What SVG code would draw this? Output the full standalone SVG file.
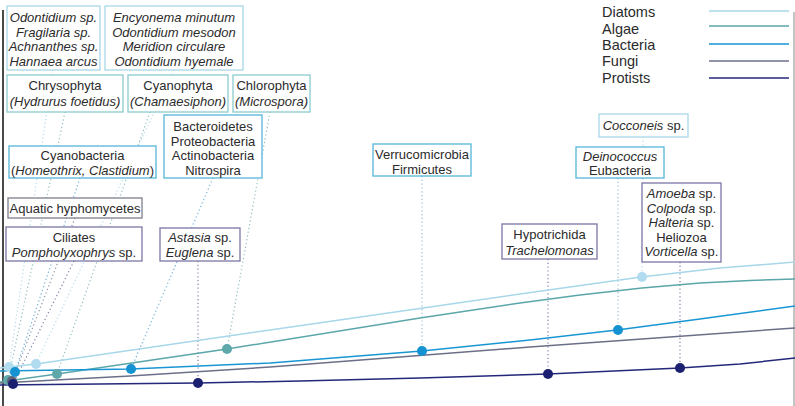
<svg xmlns="http://www.w3.org/2000/svg" width="795" height="406" viewBox="0 0 795 406">
  <style>
    text { font-family: "Liberation Sans", Arial, sans-serif; font-size: 13px; fill: #2b2b2b; text-anchor: middle; }
    .it { font-style: italic; }
    .legend text { font-size: 14.5px; text-anchor: start; }
    rect { fill: #ffffff; stroke-width: 1.3; }
    .diat rect { stroke: #a9d8ea; }
    .alg rect { stroke: #8ccbd0; }
    .bact rect { stroke: #55b6d9; }
    .fung rect { stroke: #7d7f8f; }
    .prot rect { stroke: #7b76a6; }
    .curve { fill: none; stroke-width: 1.5; stroke-linejoin: round; }
    .conn line { stroke-width: 1.2; stroke-dasharray: 1.2 2.6; opacity: 0.75; }
  </style>

  <!-- frame lines -->
  <line x1="3" y1="10" x2="3" y2="406" stroke="#4a4a4a" stroke-width="2"/>
  <line x1="794" y1="12" x2="794" y2="406" stroke="#8a8a8a" stroke-width="1"/>

  <!-- dotted leaders from labels to data points -->
  <g id="connectors" class="conn">
    <line x1="53" y1="70" x2="9" y2="367" stroke="#9fcfe3"/>
    <line x1="174" y1="70" x2="36" y2="364" stroke="#9fcfe3"/>
    <line x1="643" y1="137" x2="642" y2="277" stroke="#9fcfe3"/>
    <line x1="65" y1="112" x2="8" y2="380" stroke="#6aa9ad"/>
    <line x1="150" y1="112" x2="57" y2="374" stroke="#6aa9ad"/>
    <line x1="270" y1="112" x2="227" y2="349" stroke="#6aa9ad"/>
    <line x1="80" y1="178" x2="15" y2="372" stroke="#3a9ccf"/>
    <line x1="213" y1="178" x2="131" y2="369" stroke="#3a9ccf"/>
    <line x1="422" y1="176" x2="422" y2="351" stroke="#6fa9cf"/>
    <line x1="618" y1="178" x2="618" y2="330" stroke="#6fa9cf"/>
    <line x1="75" y1="218" x2="12" y2="381" stroke="#6d6f8a"/>
    <line x1="74" y1="261" x2="13" y2="384" stroke="#55588a"/>
    <line x1="198" y1="261" x2="198" y2="383" stroke="#55588a"/>
    <line x1="548" y1="259" x2="548" y2="374" stroke="#55588a"/>
    <line x1="680" y1="262" x2="680" y2="368" stroke="#55588a"/>
  </g>

  <!-- series curves -->
  <g id="series">
    <polyline class="curve" stroke="#a8d6ea" points="0,368 36,364 270,330 520,294 641,277 720,268 795,262"/>
    <polyline class="curve" stroke="#5aa6a9" points="0,382 57,374 227,349 420,318 520,303 580,295 642,288 700,283 750,280.5 795,279"/>
    <polyline class="curve" stroke="#1896d3" points="0,371 131,369 270,363 422,351 530,340 617,330 700,319 795,306"/>
    <polyline class="curve" stroke="#6c6f88" points="0,383 130,376 270,367 400,357 530,347 642,339 795,328"/>
    <polyline class="curve" stroke="#24287a" points="0,385 198,383 300,381 420,378 548,374 680,368 740,364 795,358"/>
  </g>

  <!-- data points -->
  <g id="points">
    <circle cx="9" cy="367" r="5" fill="#b1dbef"/>
    <circle cx="36" cy="364" r="5" fill="#b1dbef"/>
    <circle cx="642" cy="277" r="5" fill="#b1dbef"/>
    <circle cx="8" cy="380" r="5" fill="#5ea8aa"/>
    <circle cx="57" cy="374" r="5" fill="#5ea8aa"/>
    <circle cx="227" cy="349" r="5" fill="#5ea8aa"/>
    <circle cx="12" cy="381" r="5" fill="#5f6478"/>
    <circle cx="15" cy="372" r="5" fill="#1592d2"/>
    <circle cx="131" cy="369" r="5" fill="#1592d2"/>
    <circle cx="422" cy="351" r="5" fill="#1592d2"/>
    <circle cx="618" cy="330" r="5" fill="#1592d2"/>
    <circle cx="13" cy="384" r="5" fill="#1b2070"/>
    <circle cx="198" cy="383" r="5" fill="#1b2070"/>
    <circle cx="548" cy="374" r="5" fill="#1b2070"/>
    <circle cx="680" cy="368" r="5" fill="#1b2070"/>
  </g>

  <!-- legend -->
  <g id="legend" class="legend">
    <text x="602" y="17">Diatoms</text>
    <text x="602" y="34">Algae</text>
    <text x="602" y="50">Bacteria</text>
    <text x="602" y="66">Fungi</text>
    <text x="602" y="83">Protists</text>
    <line x1="709" y1="11" x2="789" y2="11" stroke="#a8d6ea" stroke-width="1.5"/>
    <line x1="709" y1="26" x2="789" y2="26" stroke="#5aa6a9" stroke-width="1.5"/>
    <line x1="709" y1="44" x2="789" y2="44" stroke="#1896d3" stroke-width="1.5"/>
    <line x1="709" y1="61" x2="789" y2="61" stroke="#6c6f88" stroke-width="1.5"/>
    <line x1="709" y1="78" x2="789" y2="78" stroke="#24287a" stroke-width="1.5"/>
  </g>

  <!-- label boxes -->
  <g id="diatoms-a" class="diat">
    <rect x="7" y="6" width="93" height="64"/>
    <text class="it" x="53.5" y="22">Odontidium sp.</text>
    <text class="it" x="53.5" y="36.5">Fragilaria sp.</text>
    <text class="it" x="53.5" y="51">Achnanthes sp.</text>
    <text class="it" x="53.5" y="65.5">Hannaea arcus</text>
  </g>
  <g id="diatoms-b" class="diat">
    <rect x="105" y="6" width="138" height="64"/>
    <text class="it" x="174" y="22">Encyonema minutum</text>
    <text class="it" x="174" y="36.5">Odontidium mesodon</text>
    <text class="it" x="174" y="51">Meridion circulare</text>
    <text class="it" x="174" y="65.5">Odontidium hyemale</text>
  </g>
  <g id="chrysophyta" class="alg">
    <rect x="7" y="75" width="116" height="37"/>
    <text x="65" y="90">Chrysophyta</text>
    <text class="it" x="65" y="106">(Hydrurus foetidus)</text>
  </g>
  <g id="cyanophyta" class="alg">
    <rect x="128" y="75" width="100" height="37"/>
    <text x="178" y="90">Cyanophyta</text>
    <text class="it" x="178" y="106">(Chamaesiphon)</text>
  </g>
  <g id="chlorophyta" class="alg">
    <rect x="233" y="75" width="77" height="37"/>
    <text x="271.5" y="90">Chlorophyta</text>
    <text class="it" x="271.5" y="106">(Microspora)</text>
  </g>
  <g id="bacteria-a" class="bact">
    <rect x="164" y="115" width="98" height="63"/>
    <text x="213" y="131">Bacteroidetes</text>
    <text x="213" y="145.5">Proteobacteria</text>
    <text x="213" y="160">Actinobacteria</text>
    <text x="213" y="174.5">Nitrospira</text>
  </g>
  <g id="cyanobacteria" class="bact">
    <rect x="9" y="146" width="147" height="32"/>
    <text x="82.5" y="160">Cyanobacteria</text>
    <text x="82.5" y="175">(<tspan class="it">Homeothrix, Clastidium</tspan>)</text>
  </g>
  <g id="fungi" class="fung">
    <rect x="8" y="198" width="134" height="20"/>
    <text x="75" y="213">Aquatic hyphomycetes</text>
  </g>
  <g id="ciliates" class="prot">
    <rect x="6" y="227" width="136" height="34"/>
    <text x="74" y="241.5">Ciliates</text>
    <text x="74" y="256.5"><tspan class="it">Pompholyxophrys</tspan> sp.</text>
  </g>
  <g id="euglenids" class="prot">
    <rect x="160" y="228" width="80" height="33"/>
    <text x="200" y="242"><tspan class="it">Astasia</tspan> sp.</text>
    <text x="200" y="257"><tspan class="it">Euglena</tspan> sp.</text>
  </g>
  <g id="bacteria-b" class="bact">
    <rect x="373" y="144" width="98" height="32"/>
    <text x="422" y="159">Verrucomicrobia</text>
    <text x="422" y="174">Firmicutes</text>
  </g>
  <g id="protists-a" class="prot">
    <rect x="502" y="224" width="95" height="35"/>
    <text x="549.5" y="239">Hypotrichida</text>
    <text class="it" x="549.5" y="255">Trachelomonas</text>
  </g>
  <g id="diatoms-c" class="diat">
    <rect x="599" y="114" width="89" height="23"/>
    <text x="643.5" y="130"><tspan class="it">Cocconeis</tspan> sp.</text>
  </g>
  <g id="bacteria-c" class="bact">
    <rect x="576" y="147" width="88" height="31"/>
    <text class="it" x="620" y="161">Deinococcus</text>
    <text x="620" y="175">Eubacteria</text>
  </g>
  <g id="protists-b" class="prot">
    <rect x="642" y="183" width="79" height="79"/>
    <text x="681.5" y="198"><tspan class="it">Amoeba</tspan> sp.</text>
    <text x="681.5" y="212.5"><tspan class="it">Colpoda</tspan> sp.</text>
    <text x="681.5" y="227"><tspan class="it">Halteria</tspan> sp.</text>
    <text x="681.5" y="241.5">Heliozoa</text>
    <text x="681.5" y="256"><tspan class="it">Vorticella</tspan> sp.</text>
  </g>
</svg>
